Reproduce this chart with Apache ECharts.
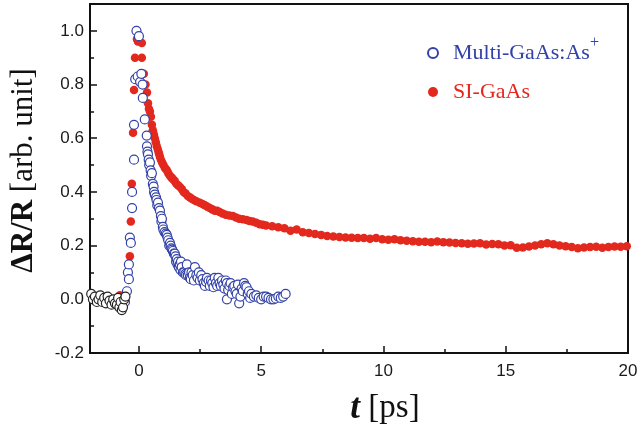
<!DOCTYPE html>
<html>
<head>
<meta charset="utf-8">
<script src="https://cdn.jsdelivr.net/npm/echarts@6/dist/echarts.min.js"></script>
<style>
  html, body { margin: 0; padding: 0; background: #fff; }
  #main { width: 641px; height: 429px; }
</style>
</head>
<body>
<div id="main"></div>
<script>
// ---------- data: [t (ps), dR/R] ----------
var preData = [
  [-1.95, 0.02], [-1.88, 0.0], [-1.8, 0.01], [-1.72, -0.01], [-1.65, 0.0], [-1.58, 0.015],
  [-1.5, -0.01], [-1.42, 0.005], [-1.35, -0.015], [-1.28, 0.01], [-1.2, -0.005], [-1.12, -0.02],
  [-1.05, 0.0], [-0.98, -0.015], [-0.9, -0.02], [-0.85, 0.005], [-0.8, -0.03], [-0.75, -0.01],
  [-0.7, -0.04], [-0.65, -0.03], [-0.6, 0.0], [-0.55, 0.01]
];

var multiData = [
  [-0.57, -0.01], [-0.49, 0.03], [-0.45, 0.10], [-0.41, 0.075], [-0.41, 0.13], [-0.37, 0.23],
  [-0.33, 0.21], [-0.28, 0.34], [-0.28, 0.40], [-0.2, 0.52], [-0.2, 0.65], [-0.15, 0.82],
  [-0.1, 1.0], [-0.05, 0.83], [0, 0.98], [0.05, 0.81], [0.1, 0.84], [0.15, 0.80], [0.16, 0.75],
  [0.24, 0.67], [0.32, 0.61], [0.33, 0.57], [0.35, 0.55], [0.37, 0.54], [0.4, 0.52], [0.42, 0.50],
  [0.45, 0.51], [0.48, 0.48], [0.5, 0.46], [0.53, 0.47], [0.57, 0.43], [0.6, 0.42], [0.62, 0.40],
  [0.65, 0.39], [0.7, 0.38], [0.72, 0.37], [0.75, 0.35], [0.78, 0.36], [0.82, 0.34], [0.86, 0.33],
  [0.9, 0.31], [0.92, 0.29], [0.94, 0.30], [0.98, 0.27], [1.0, 0.26], [1.05, 0.25], [1.1, 0.245],
  [1.14, 0.24], [1.17, 0.23], [1.2, 0.22], [1.24, 0.20], [1.27, 0.21], [1.3, 0.20], [1.33, 0.19],
  [1.36, 0.185], [1.39, 0.18], [1.43, 0.17], [1.47, 0.17], [1.5, 0.16], [1.52, 0.14], [1.55, 0.15],
  [1.58, 0.13], [1.6, 0.14], [1.63, 0.12], [1.67, 0.13], [1.7, 0.11], [1.72, 0.14], [1.75, 0.12],
  [1.8, 0.10], [1.85, 0.10], [1.9, 0.095], [1.93, 0.09], [1.96, 0.13], [2.0, 0.09], [2.05, 0.10],
  [2.08, 0.08], [2.12, 0.075], [2.15, 0.10], [2.2, 0.09], [2.25, 0.07], [2.29, 0.12], [2.35, 0.09],
  [2.4, 0.08], [2.45, 0.10], [2.49, 0.07], [2.55, 0.09], [2.6, 0.075], [2.65, 0.06], [2.7, 0.05],
  [2.75, 0.065], [2.78, 0.08], [2.85, 0.07], [2.9, 0.05], [2.95, 0.07], [3.0, 0.06], [3.05, 0.045],
  [3.1, 0.08], [3.15, 0.06], [3.2, 0.05], [3.25, 0.08], [3.3, 0.06], [3.35, 0.05], [3.4, 0.07],
  [3.45, 0.055], [3.5, 0.04], [3.55, 0.07], [3.6, 0.06], [3.6, 0.0], [3.65, 0.035], [3.7, 0.05],
  [3.75, 0.06], [3.8, 0.02], [3.85, 0.045], [3.9, 0.05], [3.95, 0.03], [4.0, 0.02], [4.05, 0.055],
  [4.1, -0.015], [4.15, 0.01], [4.2, 0.04], [4.25, 0.03], [4.3, 0.06], [4.35, 0.05], [4.4, 0.045],
  [4.45, 0.02], [4.5, 0.03], [4.55, 0.005], [4.6, 0.02], [4.7, 0.01], [4.8, 0.015], [4.9, 0.005],
  [5.0, 0.0], [5.1, 0.01], [5.2, 0.01], [5.3, 0.005], [5.4, 0.0], [5.5, 0.0], [5.6, 0.003],
  [5.7, 0.01], [5.8, 0.005], [5.9, 0.01], [6.0, 0.02]
];

var siData = [
  [-0.78, 0.015], [-0.37, 0.16], [-0.33, 0.29], [-0.29, 0.43], [-0.24, 0.62], [-0.2, 0.78],
  [-0.16, 0.90], [-0.08, 0.97], [-0.04, 0.96], [0.12, 0.955], [0.12, 0.90], [0.2, 0.84], [0.27, 0.80],
  [0.33, 0.77], [0.37, 0.73], [0.41, 0.71], [0.45, 0.70], [0.49, 0.68], [0.53, 0.65], [0.57, 0.63],
  [0.61, 0.615], [0.65, 0.60], [0.69, 0.585], [0.73, 0.57], [0.77, 0.56], [0.8, 0.55], [0.83, 0.54],
  [0.86, 0.53], [0.9, 0.52], [0.95, 0.51], [1.0, 0.50], [1.06, 0.49], [1.1, 0.485], [1.15, 0.48],
  [1.2, 0.47], [1.27, 0.46], [1.32, 0.455], [1.37, 0.45], [1.42, 0.445], [1.47, 0.44], [1.53, 0.43],
  [1.6, 0.425], [1.68, 0.418], [1.76, 0.41], [1.83, 0.40], [1.9, 0.395], [2.0, 0.385], [2.08, 0.38],
  [2.16, 0.375], [2.25, 0.37], [2.35, 0.365], [2.49, 0.36], [2.6, 0.355], [2.7, 0.35], [2.8, 0.345],
  [2.9, 0.34], [3.0, 0.335], [3.1, 0.33], [3.2, 0.33], [3.3, 0.325], [3.42, 0.32], [3.55, 0.315],
  [3.7, 0.312], [3.84, 0.31], [3.97, 0.305], [4.1, 0.30], [4.25, 0.298], [4.4, 0.295], [4.52, 0.292],
  [4.65, 0.29], [4.8, 0.285], [4.94, 0.28], [5.07, 0.278], [5.2, 0.275], [5.45, 0.272],
  [5.7, 0.268], [5.95, 0.265], [6.2, 0.255], [6.45, 0.26], [6.7, 0.25], [6.95, 0.247], [7.2, 0.243],
  [7.45, 0.24], [7.7, 0.236], [7.95, 0.234], [8.2, 0.232], [8.45, 0.23], [8.7, 0.229], [8.95, 0.228],
  [9.2, 0.228], [9.45, 0.226], [9.7, 0.228], [9.95, 0.224], [10.2, 0.222], [10.45, 0.224],
  [10.7, 0.22], [10.95, 0.218], [11.2, 0.216], [11.45, 0.214], [11.7, 0.214], [11.95, 0.213],
  [12.2, 0.215], [12.45, 0.213], [12.7, 0.212], [12.95, 0.21], [13.2, 0.209], [13.45, 0.207],
  [13.7, 0.208], [13.95, 0.209], [14.2, 0.204], [14.45, 0.206], [14.7, 0.205], [14.95, 0.2],
  [15.2, 0.201], [15.45, 0.192], [15.7, 0.193], [15.95, 0.197], [16.2, 0.2], [16.45, 0.205],
  [16.7, 0.209], [16.95, 0.205], [17.2, 0.2], [17.45, 0.198], [17.7, 0.195], [17.95, 0.19],
  [18.2, 0.193], [18.45, 0.195], [18.7, 0.196], [18.95, 0.192], [19.2, 0.195], [19.45, 0.197],
  [19.7, 0.196], [19.95, 0.198]
];

var xMajorTicks = [0, 5, 10, 15, 20];
var xMinorTicks = [2.5, 7.5, 12.5, 17.5];
var yMajorTicks = [-0.2, 0, 0.2, 0.4, 0.6, 0.8, 1.0];
var yMinorTicks = [-0.1, 0.1, 0.3, 0.5, 0.7, 0.9];

var blue = '#3242a8';
var red = '#e3281e';
var sansFont = '"Liberation Sans", Arial, sans-serif';
var serifFont = '"Liberation Serif", "Times New Roman", serif';

var chart = echarts.init(document.getElementById('main'));

var option = {
  animation: false,
  backgroundColor: '#fff',
  grid: {
    left: 90,
    right: 13,
    top: 4,
    bottom: 76,
    outerBoundsMode: 'none',
    containLabel: false,
    show: true,
    borderColor: '#111',
    borderWidth: 2,
    backgroundColor: 'transparent'
  },
  legend: {
    orient: 'vertical',
    left: 422,
    top: 30,
    itemGap: 17,
    itemWidth: 10,
    itemHeight: 10,
    formatter: function (name) {
      if (name === 'Multi-GaAs:As+') return '{a|Multi-GaAs:As}{s|+}';
      return '{b|' + name + '}';
    },
    textStyle: {
      fontFamily: serifFont,
      fontSize: 22,
      rich: {
        a: { fontFamily: serifFont, fontSize: 22, color: blue, padding: [0, 0, 0, 10] },
        s: { fontFamily: serifFont, fontSize: 16, color: blue, padding: [0, 0, 20, 0] },
        b: { fontFamily: serifFont, fontSize: 22, color: red, padding: [0, 0, 0, 10] }
      }
    },
    data: [
      { name: 'Multi-GaAs:As+' },
      { name: 'SI-GaAs' }
    ]
  },
  xAxis: [{
    type: 'value',
    min: -2,
    max: 20,
    name: '{i|t} [ps]',
    nameLocation: 'middle',
    nameGap: 38,
    nameTextStyle: {
      fontFamily: serifFont,
      fontSize: 33,
      color: '#111',
      padding: [0, 0, 0, 52],
      rich: {
        i: { fontFamily: serifFont, fontSize: 35, fontStyle: 'italic', fontWeight: 'bold', color: '#111' }
      }
    },
    splitLine: { show: false },
    axisLine: { onZero: false, lineStyle: { color: '#111', width: 2 } },
    axisTick: { inside: true, length: 7, customValues: xMajorTicks, lineStyle: { color: '#111', width: 1.5 } },
    axisLabel: {
      customValues: xMajorTicks,
      margin: 10,
      fontFamily: sansFont,
      fontSize: 17,
      color: '#1a1a1a'
    }
  }, {
    type: 'value',
    min: -2,
    max: 20,
    position: 'bottom',
    splitLine: { show: false },
    axisLine: { show: false, onZero: false },
    axisLabel: { show: false },
    axisTick: { inside: true, length: 4, customValues: xMinorTicks, lineStyle: { color: '#111', width: 1.5 } }
  }],
  yAxis: [{
    type: 'value',
    min: -0.2,
    max: 1.1,
    name: '{b|ΔR/R} [arb. unit]',
    nameLocation: 'middle',
    nameRotate: 90,
    nameGap: 51,
    nameTextStyle: {
      fontFamily: serifFont,
      fontSize: 31,
      color: '#111',
      padding: [0, 0, 0, 16],
      rich: {
        b: { fontFamily: serifFont, fontSize: 31, fontWeight: 'bold', color: '#111' }
      }
    },
    splitLine: { show: false },
    axisLine: { onZero: false, lineStyle: { color: '#111', width: 2 } },
    axisTick: { inside: true, length: 7, customValues: yMajorTicks, lineStyle: { color: '#111', width: 1.5 } },
    axisLabel: {
      customValues: yMajorTicks,
      margin: 6,
      fontFamily: sansFont,
      fontSize: 17,
      color: '#1a1a1a',
      formatter: function (v) { return v.toFixed(1); }
    }
  }, {
    type: 'value',
    min: -0.2,
    max: 1.1,
    position: 'left',
    splitLine: { show: false },
    axisLine: { show: false, onZero: false },
    axisLabel: { show: false },
    axisTick: { inside: true, length: 4, customValues: yMinorTicks, lineStyle: { color: '#111', width: 1.5 } }
  }],
  series: [{
    name: 'SI-GaAs',
    type: 'scatter',
    data: siData,
    symbol: 'circle',
    symbolSize: 8.5,
    itemStyle: { color: red, opacity: 1 }
  }, {
    name: 'Multi-GaAs:As+',
    type: 'scatter',
    data: multiData,
    symbol: 'circle',
    symbolSize: 9,
    itemStyle: { color: '#fff', borderColor: blue, borderWidth: 1.2, opacity: 1 }
  }, {
    name: 'pre',
    type: 'scatter',
    data: preData,
    symbol: 'circle',
    symbolSize: 9,
    itemStyle: { color: '#fff', borderColor: '#222', borderWidth: 1.2, opacity: 1 }
  }]
};

chart.setOption(option);
</script>
</body>
</html>
